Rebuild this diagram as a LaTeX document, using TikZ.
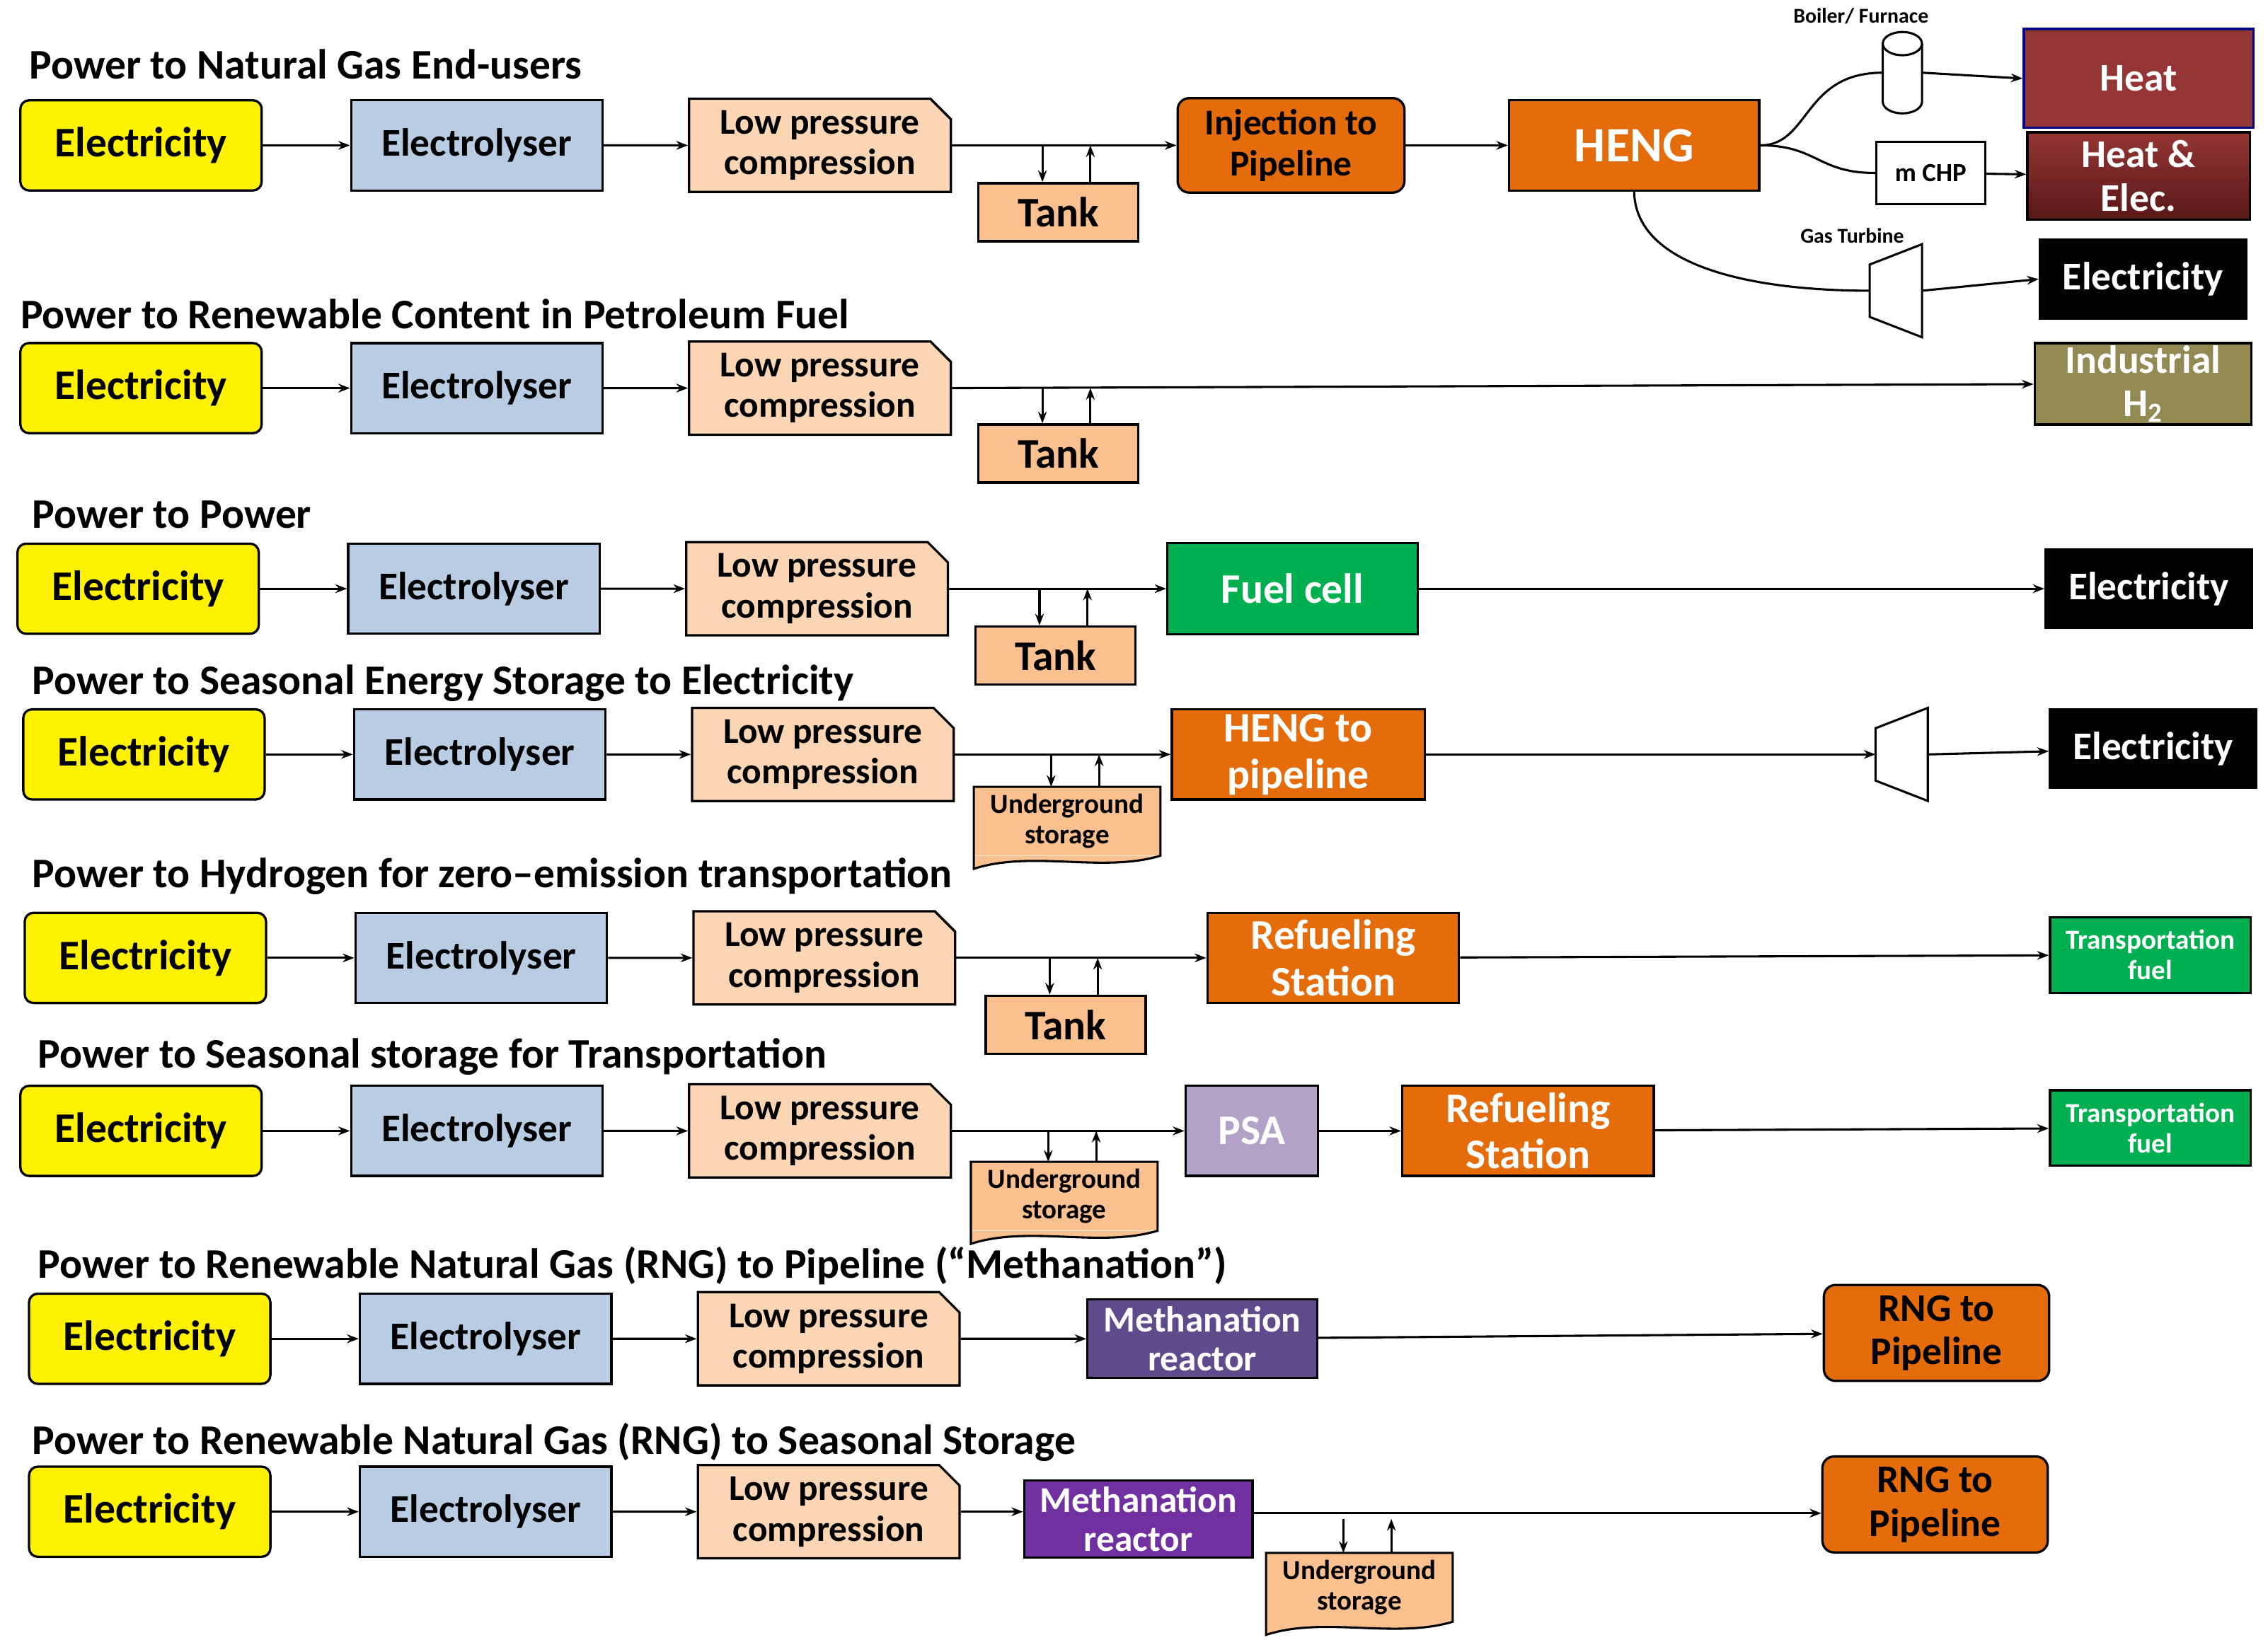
\documentclass[tikz,border=0pt]{standalone}
\usepackage{fontspec}
\setmainfont{Carlito}
\usetikzlibrary{shapes.misc,arrows.meta}

\definecolor{elyc}{HTML}{B8CCE4}
\definecolor{lpcc}{HTML}{FCD5B4}
\definecolor{tankc}{HTML}{FAC090}
\definecolor{orgc}{HTML}{E46C0A}
\definecolor{heatc}{HTML}{943634}
\definecolor{chpc}{HTML}{7E2222}
\definecolor{indc}{HTML}{938953}
\definecolor{grnc}{HTML}{00B050}
\definecolor{psac}{HTML}{B3A2C7}
\definecolor{meth}{HTML}{5F4B8B}
\definecolor{methb}{HTML}{7030A0}

\tikzset{
  box/.style={draw=black, line width=1.6pt, align=center, font=\bfseries\fontsize{27}{30}\selectfont, inner sep=0pt},
  elec/.style={box, fill=yellow, rounded corners=6pt, minimum width=166pt, minimum height=62pt, font=\bfseries\fontsize{29}{32}\selectfont},
  elys/.style={box, fill=elyc, minimum width=173pt, minimum height=62pt},
  lpc/.style={box, fill=lpcc, chamfered rectangle, chamfered rectangle corners=north east, chamfered rectangle xsep=6pt, chamfered rectangle ysep=8pt, minimum width=180pt, minimum height=62pt, font=\bfseries\fontsize{25}{28}\selectfont},
  tank/.style={box, fill=tankc, minimum width=110pt, minimum height=40pt, font=\bfseries\fontsize{29}{32}\selectfont},
  ug/.style={fill=tankc, align=center, inner sep=0pt, minimum width=128pt, minimum height=47pt, font=\bfseries\fontsize{19}{21}\selectfont},
  orng/.style={box, fill=orgc, text=white, minimum height=62pt, font=\bfseries\fontsize{29}{32}\selectfont},
  dark/.style={box, fill=black, text=white, minimum width=142pt, minimum height=54pt},
  gfuel/.style={box, fill=grnc, text=white, minimum width=138pt, minimum height=52pt, font=\bfseries\fontsize{19}{21}\selectfont},
  reactor/.style={box, text=white, minimum width=158pt, minimum height=54pt, font=\bfseries\fontsize{25}{27}\selectfont},
  title/.style={anchor=west, inner sep=0pt, font=\bfseries\fontsize{29}{32}\selectfont},
  small/.style={inner sep=0pt, font=\bfseries\fontsize{14.5}{16}\selectfont},
  flow/.style={line width=1.5pt, -{Stealth[length=8pt,width=6pt]}},
  line/.style={line width=1.5pt}
}

% electricity -> electrolyser -> compression
\newcommand\chain[3]{%
  \node[elec] (#1el) at ({#2+83},#3) {Electricity};
  \node[elys] (#1ly) at ({#2+314},#3) {Electrolyser};
  \node[lpc] (#1lp) at ({#2+550},#3) {Low pressure\\compression};
  \draw[flow] (#1el) -- (#1ly);
  \draw[flow] (#1ly) -- (#1lp);}
% two arrows between a line and a store
\newcommand\store[2]{%
  \draw[flow] ([xshift=-11pt]#1.north |- #2.east) -- ([xshift=-11pt]#1.north);
  \draw[flow] ([xshift=22pt]#1.north) -- ([xshift=22pt]#1.north |- #2.east);}
% underground storage with a wavy bottom
\newcommand\ugstore[3]{%
  \node[ug] (#1) at (#2,#3) {Underground\\storage};
  \fill[tankc] (#1.south east) .. controls ([shift={(-40pt,-12pt)}]#1.south east) and ([shift={(40pt,4pt)}]#1.south west) .. ([yshift=-9pt]#1.south west) -- (#1.south west) -- cycle;
  \draw[line] (#1.south west) -- (#1.north west) -- (#1.north east) -- (#1.south east) .. controls ([shift={(-40pt,-12pt)}]#1.south east) and ([shift={(40pt,4pt)}]#1.south west) .. ([yshift=-9pt]#1.south west) -- cycle;}
% gas turbine
\newcommand\turbine[3]{%
  \draw[line, fill=white] (#2-18,#3-18) -- (#2+18,#3-32) -- (#2+18,#3+32) -- (#2-18,#3+18) -- cycle;
  \coordinate (#1w) at (#2-18,#3);
  \coordinate (#1e) at (#2+18,#3);}

\begin{document}
\begin{tikzpicture}[x=1pt, y=-1pt]
\useasboundingbox (0,0) rectangle (1560,1128);

% row 1
\node[title] at (20,44) {Power to Natural Gas End-users};
\chain{a}{14}{100}
\node[tank] (atk) at (728,146) {Tank};
\node[orng, rounded corners=8pt, minimum width=156pt, minimum height=65pt, text=black, font=\bfseries\fontsize{25}{28}\selectfont] (ainj) at (888,100) {Injection to\\Pipeline};
\node[orng, minimum width=172pt, font=\bfseries\fontsize{34}{36}\selectfont] (aheng) at (1124,100) {HENG};
\node[box, fill=heatc, draw=blue!50!black, text=white, minimum width=158pt, minimum height=68pt] (aheat) at (1471,54) {Heat};
\node[box, top color=heatc, bottom color=chpc!70!black, text=white, minimum width=153pt, minimum height=60pt] (achp) at (1471,121) {Heat \&\\Elec.};
\node[dark] (aelc) at (1474,192) {Electricity};
\node[box, fill=white, line width=1.2pt, minimum width=75pt, minimum height=43pt, font=\bfseries\fontsize{18}{20}\selectfont] (amchp) at (1328,119) {m CHP};
\node[small] at (1280,11) {Boiler/ Furnace};
\node[small] at (1274,162) {Gas Turbine};
\draw[line, fill=white] (1295,30) -- (1295,70) arc[start angle=180, end angle=360, x radius=13.5, y radius=-8] -- (1322,30);
\draw[line, fill=white] (1308.5,30) ellipse[x radius=13.5, y radius=8];
\coordinate (abw) at (1295,50);
\coordinate (abe) at (1322,50);
\turbine{at}{1304}{200}
\draw[flow] (alp.east) -- (ainj);
\store{atk}{alp}
\draw[flow] (ainj) -- (aheng);
\draw[line] (aheng.east) .. controls (1245,100) and (1240,50) .. (abw);
\draw[flow] (abe) -- (aheat.west);
\draw[line] (aheng.east) .. controls (1250,100) and (1250,119) .. (amchp.west);
\draw[flow] (amchp) -- (achp);
\draw[line] (aheng.south) .. controls (1125,185) and (1210,200) .. (atw);
\draw[flow] (ate) -- (aelc.west);

% row 2
\node[title] at (14,216) {Power to Renewable Content in Petroleum Fuel};
\chain{b}{14}{267}
\node[tank] (btk) at (728,312) {Tank};
\node[box, fill=indc, text=white, minimum width=149pt, minimum height=56pt] (bind) at (1474,264) {Industrial\\H\textsubscript{2}};
\draw[flow] (blp.east) -- (bind);
\store{btk}{blp}

% row 3
\node[title] at (22,354) {Power to Power};
\chain{c}{12}{405}
\node[tank] (ctk) at (726,451) {Tank};
\node[box, fill=grnc, text=white, minimum width=172pt, minimum height=63pt, font=\bfseries\fontsize{29}{32}\selectfont] (cfc) at (889,405) {Fuel cell};
\node[dark] (celc) at (1478,405) {Electricity};
\draw[flow] (clp.east) -- (cfc);
\store{ctk}{clp}
\draw[flow] (cfc) -- (celc);

% row 4
\node[title] at (22,470) {Power to Seasonal Energy Storage to Electricity};
\chain{d}{16}{519}
\ugstore{dug}{734}{565}
\node[orng, minimum width=174pt] (dheng) at (893,519) {HENG to\\pipeline};
\turbine{dt}{1308}{519}
\node[dark] (delc) at (1481,515) {Electricity};
\draw[flow] (dlp.east) -- (dheng);
\store{dug}{dlp}
\draw[flow] (dheng) -- (dtw);
\draw[flow] (dte) -- (delc);

% row 5
\node[title] at (22,603) {Power to Hydrogen for zero--emission transportation};
\chain{e}{17}{659}
\node[tank] (etk) at (733,705) {Tank};
\node[orng, minimum width=173pt] (erf) at (917,659) {Refueling\\Station};
\node[gfuel] (etf) at (1479,657) {Transportation\\fuel};
\draw[flow] (elp.east) -- (erf);
\store{etk}{elp}
\draw[flow] (erf) -- (etf);

% row 6
\node[title] at (26,727) {Power to Seasonal storage for Transportation};
\chain{f}{14}{778}
\ugstore{fug}{732}{823}
\node[box, fill=psac, text=white, minimum width=91pt, minimum height=62pt, font=\bfseries\fontsize{29}{32}\selectfont] (fpsa) at (861,778) {PSA};
\node[orng, minimum width=173pt] (frf) at (1051,778) {Refueling\\Station};
\node[gfuel] (ftf) at (1479,776) {Transportation\\fuel};
\draw[flow] (flp.east) -- (fpsa);
\store{fug}{flp}
\draw[flow] (fpsa) -- (frf);
\draw[flow] (frf) -- (ftf);

% row 7
\node[title] at (26,871) {Power to Renewable Natural Gas (RNG) to Pipeline (“Methanation”)};
\chain{g}{20}{921}
\node[reactor, fill=meth] (gmr) at (827,921) {Methanation\\reactor};
\node[orng, rounded corners=8pt, text=black, minimum width=155pt, minimum height=66pt, font=\bfseries\fontsize{27}{30}\selectfont] (grng) at (1332,917) {RNG to\\Pipeline};
\draw[flow] (glp) -- (gmr);
\draw[flow] (gmr) -- (grng);

% row 8
\node[title] at (22,992) {Power to Renewable Natural Gas (RNG) to Seasonal Storage};
\chain{h}{20}{1040}
\node[reactor, fill=methb, minimum width=157pt, minimum height=53pt] (hmr) at (783,1045) {Methanation\\reactor};
\ugstore{hug}{935}{1092}
\node[orng, rounded corners=8pt, text=black, minimum width=155pt, minimum height=66pt, font=\bfseries\fontsize{27}{30}\selectfont] (hrng) at (1331,1035) {RNG to\\Pipeline};
\draw[flow] (hlp.east) -- (hmr.west |- hlp.east);
\draw[flow] ([yshift=4pt]hmr.east) -- ([yshift=4pt]hrng.west |- hmr.east);
\store{hug}{hmr}
\end{tikzpicture}
\end{document}
